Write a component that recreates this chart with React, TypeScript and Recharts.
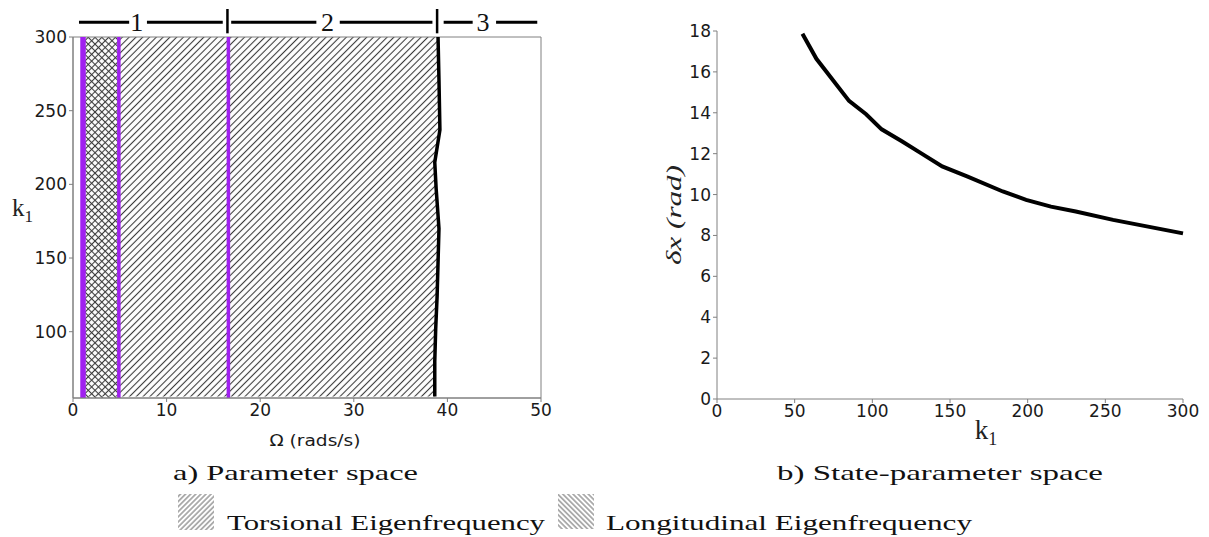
import React from 'react';
import {
  ComposedChart,
  LineChart,
  Line,
  Area,
  XAxis,
  YAxis,
  ReferenceArea,
  ReferenceLine,
  ReferenceDot,
  Label,
} from 'recharts';

// a) parameter space: stability boundary, Omega against k1
const boundaryK = [56, 80, 102, 124, 147, 170, 197, 215, 237, 271, 300];
const boundaryOmega = [38.65, 38.65, 38.75, 38.9, 39.0, 39.1, 38.8, 38.65, 39.2, 39.1, 39.0];
const eigenLines = [1.07, 4.9, 16.6];
const omegaTicks = [0, 10, 20, 30, 40, 50];
const k1Ticks = [100, 150, 200, 250, 300];

// regions marked above panel a
const regionNames = ['1', '2', '3'];
const regionCentres = [6.8, 27.2, 43.8];
const bracketStarts = [0.64, 7.9, 16.9, 28.5, 39.6, 45.2];
const bracketEnds = [6.0, 16.0, 26.0, 38.4, 42.7, 49.6];
const regionEdges = [16.5, 38.9];

// b) state-parameter space
const stateK = [55, 64, 85, 96, 106, 119, 131, 145, 161, 184, 199, 215, 231, 255, 300];
const stateDx = [17.87, 16.64, 14.58, 13.93, 13.19, 12.61, 12.04, 11.38, 10.89, 10.15, 9.74, 9.41, 9.17, 8.76, 8.1];
const kTicks = [0, 50, 100, 150, 200, 250, 300];
const dxTicks = [0, 2, 4, 6, 8, 10, 12, 14, 16, 18];

const K_MIN = 55;
const K_MAX = 300;
const BRACKET_K = 310;

const tickStyle = { fill: '#1a1a1a', fontSize: 17, fontFamily: 'DejaVu Sans' };
const axisGrey = '#808080';
const purple = '#a020f0';

const paramData = boundaryK.map((k, i) => ({
  k,
  omega: boundaryOmega[i],
  band: [eigenLines[0], boundaryOmega[i]],
}));

const stateData = stateK.map((k, i) => ({ k, dx: stateDx[i] }));

const OmegaLabel = ({ viewBox }: any) => {
  const { x, y, width } = viewBox;
  return (
    <text x={x + width / 2 + 8} y={y + 48} textAnchor="middle" fontFamily="DejaVu Sans" fontSize={16}
      fill="#1a1a1a" textLength={91} lengthAdjust="spacingAndGlyphs">
      Ω (rads/s)
    </text>
  );
};

const SideK1Label = ({ viewBox }: any) => {
  const { x, y, height } = viewBox;
  return (
    <text x={x - 17} y={y + height / 2 - 2} fontFamily="Liberation Serif" fontSize={25} fill="#222">
      k<tspan fontSize={17} dy={6}>1</tspan>
    </text>
  );
};

const BottomK1Label = ({ viewBox }: any) => {
  const { x, y, width } = viewBox;
  return (
    <text x={x + width / 2 + 36} y={y + 40} textAnchor="middle" fontFamily="Liberation Serif" fontSize={27} fill="#222">
      k<tspan fontSize={18} dy={6}>1</tspan>
    </text>
  );
};

const DxLabel = ({ viewBox }: any) => {
  const { x, y, height } = viewBox;
  const cx = x + 16;
  const cy = y + height / 2;
  return (
    <text x={cx} y={cy} transform={`rotate(-90 ${cx} ${cy})`} textAnchor="middle" dominantBaseline="central"
      fontFamily="Liberation Serif" fontStyle="italic" fontSize={22} fill="#222" textLength={100}
      lengthAdjust="spacingAndGlyphs">
      δx (rad)
    </text>
  );
};

const ParameterSpace = () => (
  <ComposedChart
    layout="vertical"
    width={560}
    height={460}
    data={paramData}
    margin={{ top: 37, right: 19, bottom: 12, left: 29 }}
  >
    <defs>
      <pattern id="torsHatch" patternUnits="userSpaceOnUse" width={4.8} height={4.8} patternTransform="rotate(45)">
        <line x1={2.4} y1={0} x2={2.4} y2={4.8} stroke="#3a3a3a" strokeWidth={1.1} />
      </pattern>
      <pattern id="longHatch" patternUnits="userSpaceOnUse" width={4.8} height={4.8} patternTransform="rotate(-45)">
        <line x1={2.4} y1={0} x2={2.4} y2={4.8} stroke="#3a3a3a" strokeWidth={1.1} />
      </pattern>
    </defs>
    <XAxis type="number" domain={[0, 50]} ticks={omegaTicks} interval={0} height={50}
      tick={tickStyle} tickSize={4} stroke={axisGrey}>
      <Label content={OmegaLabel} />
    </XAxis>
    <YAxis type="number" dataKey="k" domain={[K_MIN, K_MAX]} ticks={k1Ticks} interval={0} width={44}
      tick={tickStyle} tickSize={4} stroke={axisGrey} allowDataOverflow reversed>
      <Label content={SideK1Label} />
    </YAxis>
    <Area dataKey="band" type="linear" fill="url(#torsHatch)" fillOpacity={1} stroke="none"
      isAnimationActive={false} />
    <ReferenceArea x1={eigenLines[0]} x2={eigenLines[1]} y1={K_MIN} y2={K_MAX}
      fill="url(#longHatch)" fillOpacity={1} stroke="none" />
    {eigenLines.map((w, i) => (
      <ReferenceLine key={'e' + i} x={w} stroke={purple} strokeWidth={i === 0 ? 5.5 : 3.5} />
    ))}
    <Line dataKey="omega" type="linear" stroke="#000" strokeWidth={3.5} dot={false} isAnimationActive={false} />
    <ReferenceArea x1={0} x2={50} y1={K_MIN} y2={K_MAX} fill="none" stroke={axisGrey} strokeWidth={1} />
    {bracketStarts.map((s, i) => (
      <ReferenceLine key={'b' + i} segment={[{ x: s, y: BRACKET_K }, { x: bracketEnds[i], y: BRACKET_K }]}
        stroke="#000" strokeWidth={3} ifOverflow="visible" />
    ))}
    {regionEdges.map((w, i) => (
      <ReferenceLine key={'t' + i} segment={[{ x: w, y: 302.5 }, { x: w, y: 319 }]}
        stroke="#000" strokeWidth={2.5} ifOverflow="visible" />
    ))}
    {regionNames.map((n, i) => (
      <ReferenceDot key={'n' + i} x={regionCentres[i]} y={BRACKET_K} r={1} fill="none" stroke="none"
        ifOverflow="visible"
        label={{ value: n, position: 'center', fontSize: 26, fontFamily: 'Liberation Serif', fill: '#111' }} />
    ))}
  </ComposedChart>
);

const StateSpace = () => (
  <LineChart width={600} height={460} data={stateData} margin={{ top: 31, right: 37, bottom: 11, left: 37 }}>
    <XAxis type="number" dataKey="k" domain={[0, 300]} ticks={kTicks} interval={0} height={50}
      tick={tickStyle} tickSize={4} stroke={axisGrey}>
      <Label content={BottomK1Label} />
    </XAxis>
    <YAxis type="number" domain={[0, 18]} ticks={dxTicks} interval={0} width={60}
      tick={tickStyle} tickSize={4} stroke={axisGrey}>
      <Label content={DxLabel} />
    </YAxis>
    <Line dataKey="dx" type="linear" stroke="#000" strokeWidth={4} dot={false} isAnimationActive={false} />
  </LineChart>
);

const captionFont = { fontFamily: 'Liberation Serif', fontSize: 22, fill: '#111' };

export default function App() {
  return (
    <div style={{ position: 'absolute', left: 0, top: 0, width: 1209, height: 537, background: '#fff' }}>
      <div style={{ position: 'absolute', left: 0, top: 0 }}>
        <ParameterSpace />
      </div>
      <div style={{ position: 'absolute', left: 620, top: 0 }}>
        <StateSpace />
      </div>
      <svg width={1209} height={537} style={{ position: 'absolute', left: 0, top: 0, pointerEvents: 'none' }}>
        <defs>
          <pattern id="legTors" patternUnits="userSpaceOnUse" width={3.6} height={3.6} patternTransform="rotate(45)">
            <line x1={1.8} y1={0} x2={1.8} y2={3.6} stroke="#555" strokeWidth={0.9} />
          </pattern>
          <pattern id="legLong" patternUnits="userSpaceOnUse" width={3.6} height={3.6} patternTransform="rotate(-45)">
            <line x1={1.8} y1={0} x2={1.8} y2={3.6} stroke="#555" strokeWidth={0.9} />
          </pattern>
        </defs>
        <text x={173} y={480} textLength={245} lengthAdjust="spacingAndGlyphs" {...captionFont}>a) Parameter space</text>
        <text x={777} y={480} textLength={326} lengthAdjust="spacingAndGlyphs" {...captionFont}>b) State-parameter space</text>
        <rect x={178} y={494} width={36} height={36} fill="url(#legTors)" />
        <text x={227} y={530} textLength={318} lengthAdjust="spacingAndGlyphs" {...captionFont}>Torsional Eigenfrequency</text>
        <rect x={558} y={494} width={36} height={35} fill="url(#legLong)" />
        <text x={606} y={530} textLength={366} lengthAdjust="spacingAndGlyphs" {...captionFont}>Longitudinal Eigenfrequency</text>
      </svg>
    </div>
  );
}
